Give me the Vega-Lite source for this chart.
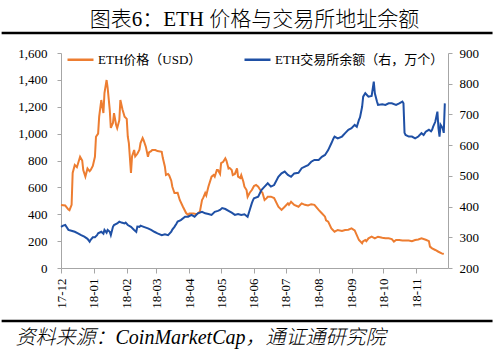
{
"$schema": "https://vega.github.io/schema/vega-lite/v6.json",
"width": 387, "height": 215,
"autosize": {"type": "none"},
"padding": {"left": 61, "top": 53, "right": 51, "bottom": 86},
"background": "white",
"config": {"view": {"stroke": null}, "font": "Liberation Serif, Noto Sans CJK SC"},
"title": {"text": "图表6：ETH 价格与交易所地址余额", "font": "Liberation Serif, Noto Sans CJK SC", "fontSize": 21, "fontWeight": 300, "color": "#000", "anchor": "middle", "offset": 2},
"datasets": {
"price": [
{"date":"2017-12-01","price":469},{"date":"2017-12-05","price":465},{"date":"2017-12-06","price":455},{"date":"2017-12-08","price":435},{"date":"2017-12-09","price":430},{"date":"2017-12-11","price":470},{"date":"2017-12-12","price":707},{"date":"2017-12-14","price":766},{"date":"2017-12-16","price":750},{"date":"2017-12-19","price":828},{"date":"2017-12-21","price":800},{"date":"2017-12-22","price":729},{"date":"2017-12-24","price":680},{"date":"2017-12-26","price":740},{"date":"2017-12-28","price":720},{"date":"2017-12-29","price":730},{"date":"2017-12-31","price":760},
{"date":"2018-01-02","price":828},{"date":"2018-01-03","price":977},{"date":"2018-01-05","price":1000},{"date":"2018-01-06","price":1126},{"date":"2018-01-08","price":1250},{"date":"2018-01-10","price":1153},{"date":"2018-01-11","price":1302},{"date":"2018-01-13","price":1399},{"date":"2018-01-14","price":1340},{"date":"2018-01-16","price":1175},{"date":"2018-01-17","price":1042},{"date":"2018-01-19","price":1080},{"date":"2018-01-20","price":1153},{"date":"2018-01-22","price":1064},{"date":"2018-01-23","price":1040},{"date":"2018-01-25","price":1100},{"date":"2018-01-26","price":1250},{"date":"2018-01-28","price":1180},{"date":"2018-01-30","price":1126},
{"date":"2018-02-01","price":1110},{"date":"2018-02-02","price":977},{"date":"2018-02-03","price":930},{"date":"2018-02-05","price":707},{"date":"2018-02-06","price":830},{"date":"2018-02-08","price":878},{"date":"2018-02-09","price":830},{"date":"2018-02-11","price":850},{"date":"2018-02-13","price":880},{"date":"2018-02-14","price":930},{"date":"2018-02-16","price":967},{"date":"2018-02-17","price":950},{"date":"2018-02-19","price":903},{"date":"2018-02-21","price":828},{"date":"2018-02-22","price":860},{"date":"2018-02-24","price":870},{"date":"2018-02-25","price":878},{"date":"2018-02-28","price":878},
{"date":"2018-03-02","price":870},{"date":"2018-03-06","price":865},{"date":"2018-03-07","price":820},{"date":"2018-03-09","price":754},{"date":"2018-03-10","price":692},{"date":"2018-03-12","price":700},{"date":"2018-03-13","price":690},{"date":"2018-03-15","price":650},{"date":"2018-03-16","price":605},{"date":"2018-03-18","price":558},{"date":"2018-03-21","price":560},{"date":"2018-03-23","price":506},{"date":"2018-03-26","price":456},{"date":"2018-03-29","price":409},{"date":"2018-03-31","price":394},
{"date":"2018-04-01","price":405},{"date":"2018-04-05","price":405},{"date":"2018-04-08","price":400},{"date":"2018-04-09","price":405},{"date":"2018-04-11","price":420},{"date":"2018-04-13","price":506},{"date":"2018-04-14","price":520},{"date":"2018-04-16","price":558},{"date":"2018-04-17","price":540},{"date":"2018-04-19","price":605},{"date":"2018-04-22","price":680},{"date":"2018-04-24","price":692},{"date":"2018-04-25","price":680},{"date":"2018-04-27","price":729},{"date":"2018-04-28","price":729},{"date":"2018-04-30","price":700},
{"date":"2018-05-01","price":781},{"date":"2018-05-03","price":790},{"date":"2018-05-05","price":816},{"date":"2018-05-06","price":800},{"date":"2018-05-08","price":741},{"date":"2018-05-09","price":745},{"date":"2018-05-11","price":730},{"date":"2018-05-12","price":692},{"date":"2018-05-14","price":700},{"date":"2018-05-16","price":741},{"date":"2018-05-17","price":680},{"date":"2018-05-19","price":670},{"date":"2018-05-20","price":692},{"date":"2018-05-22","price":642},{"date":"2018-05-23","price":605},{"date":"2018-05-25","price":580},{"date":"2018-05-26","price":530},{"date":"2018-05-28","price":560},{"date":"2018-05-30","price":580},{"date":"2018-05-31","price":595},
{"date":"2018-06-01","price":610},{"date":"2018-06-03","price":618},{"date":"2018-06-05","price":605},{"date":"2018-06-08","price":568},{"date":"2018-06-09","price":560},{"date":"2018-06-11","price":506},{"date":"2018-06-13","price":520},{"date":"2018-06-14","price":531},{"date":"2018-06-17","price":531},{"date":"2018-06-20","price":520},{"date":"2018-06-24","price":456},{"date":"2018-06-27","price":432},{"date":"2018-06-30","price":456},
{"date":"2018-07-03","price":481},{"date":"2018-07-04","price":470},{"date":"2018-07-06","price":493},{"date":"2018-07-09","price":470},{"date":"2018-07-13","price":456},{"date":"2018-07-16","price":481},{"date":"2018-07-19","price":470},{"date":"2018-07-22","price":465},{"date":"2018-07-25","price":475},{"date":"2018-07-28","price":470},
{"date":"2018-08-01","price":432},{"date":"2018-08-04","price":407},{"date":"2018-08-07","price":382},{"date":"2018-08-08","price":355},{"date":"2018-08-10","price":345},{"date":"2018-08-13","price":295},{"date":"2018-08-16","price":270},{"date":"2018-08-19","price":283},{"date":"2018-08-23","price":275},{"date":"2018-08-26","price":283},{"date":"2018-08-29","price":285},
{"date":"2018-09-01","price":295},{"date":"2018-09-04","price":280},{"date":"2018-09-08","price":208},{"date":"2018-09-11","price":184},{"date":"2018-09-12","price":200},{"date":"2018-09-14","price":208},{"date":"2018-09-15","price":200},{"date":"2018-09-17","price":221},{"date":"2018-09-20","price":233},{"date":"2018-09-23","price":221},{"date":"2018-09-26","price":233},{"date":"2018-09-30","price":225},
{"date":"2018-10-03","price":221},{"date":"2018-10-06","price":221},{"date":"2018-10-09","price":215},{"date":"2018-10-11","price":196},{"date":"2018-10-13","price":208},{"date":"2018-10-16","price":208},{"date":"2018-10-19","price":205},{"date":"2018-10-22","price":205},{"date":"2018-10-25","price":205},{"date":"2018-10-28","price":200},{"date":"2018-10-31","price":208},
{"date":"2018-11-03","price":212},{"date":"2018-11-06","price":221},{"date":"2018-11-10","price":210},{"date":"2018-11-13","price":200},{"date":"2018-11-14","price":159},{"date":"2018-11-16","price":146},{"date":"2018-11-19","price":134},{"date":"2018-11-22","price":121},{"date":"2018-11-25","price":109},{"date":"2018-11-27","price":104}
],
"balance": [
{"date":"2017-12-01","balance":334},{"date":"2017-12-03","balance":338},{"date":"2017-12-05","balance":340},{"date":"2017-12-08","balance":324},{"date":"2017-12-10","balance":322},{"date":"2017-12-14","balance":318},{"date":"2017-12-17","balance":313},{"date":"2017-12-20","balance":307},{"date":"2017-12-23","balance":302},{"date":"2017-12-26","balance":295},{"date":"2017-12-28","balance":286},{"date":"2017-12-29","balance":292},{"date":"2017-12-31","balance":300},
{"date":"2018-01-02","balance":300},{"date":"2018-01-04","balance":307},{"date":"2018-01-05","balance":313},{"date":"2018-01-08","balance":318},{"date":"2018-01-10","balance":312},{"date":"2018-01-11","balance":324},{"date":"2018-01-13","balance":315},{"date":"2018-01-14","balance":324},{"date":"2018-01-16","balance":318},{"date":"2018-01-17","balance":307},{"date":"2018-01-19","balance":334},{"date":"2018-01-20","balance":340},{"date":"2018-01-23","balance":345},{"date":"2018-01-25","balance":351},{"date":"2018-01-27","balance":348},{"date":"2018-01-30","balance":345},{"date":"2018-01-31","balance":348},
{"date":"2018-02-02","balance":340},{"date":"2018-02-05","balance":334},{"date":"2018-02-08","balance":324},{"date":"2018-02-10","balance":318},{"date":"2018-02-11","balance":335},{"date":"2018-02-13","balance":334},{"date":"2018-02-14","balance":338},{"date":"2018-02-17","balance":334},{"date":"2018-02-21","balance":329},{"date":"2018-02-24","balance":324},{"date":"2018-02-27","balance":318},
{"date":"2018-03-02","balance":313},{"date":"2018-03-06","balance":307},{"date":"2018-03-09","balance":310},{"date":"2018-03-12","balance":307},{"date":"2018-03-15","balance":318},{"date":"2018-03-16","balance":325},{"date":"2018-03-18","balance":334},{"date":"2018-03-20","balance":345},{"date":"2018-03-21","balance":351},{"date":"2018-03-24","balance":356},{"date":"2018-03-28","balance":367},{"date":"2018-03-31","balance":367},
{"date":"2018-04-03","balance":373},{"date":"2018-04-06","balance":367},{"date":"2018-04-09","balance":378},{"date":"2018-04-13","balance":383},{"date":"2018-04-16","balance":378},{"date":"2018-04-19","balance":376},{"date":"2018-04-22","balance":373},{"date":"2018-04-25","balance":383},{"date":"2018-04-28","balance":386},{"date":"2018-04-30","balance":389},
{"date":"2018-05-02","balance":395},{"date":"2018-05-05","balance":392},{"date":"2018-05-08","balance":386},{"date":"2018-05-11","balance":380},{"date":"2018-05-14","balance":373},{"date":"2018-05-17","balance":376},{"date":"2018-05-20","balance":373},{"date":"2018-05-23","balance":375},{"date":"2018-05-26","balance":367},{"date":"2018-05-28","balance":389},{"date":"2018-05-30","balance":411},{"date":"2018-05-31","balance":420},
{"date":"2018-06-01","balance":427},{"date":"2018-06-05","balance":432},{"date":"2018-06-08","balance":454},{"date":"2018-06-11","balance":465},{"date":"2018-06-14","balance":476},{"date":"2018-06-17","balance":465},{"date":"2018-06-20","balance":470},{"date":"2018-06-24","balance":497},{"date":"2018-06-27","balance":508},{"date":"2018-06-30","balance":514},
{"date":"2018-07-03","balance":503},{"date":"2018-07-06","balance":497},{"date":"2018-07-09","balance":508},{"date":"2018-07-13","balance":510},{"date":"2018-07-16","balance":525},{"date":"2018-07-19","balance":530},{"date":"2018-07-22","balance":535},{"date":"2018-07-25","balance":546},{"date":"2018-07-28","balance":552},
{"date":"2018-08-01","balance":552},{"date":"2018-08-04","balance":562},{"date":"2018-08-07","balance":568},{"date":"2018-08-10","balance":584},{"date":"2018-08-13","balance":606},{"date":"2018-08-15","balance":622},{"date":"2018-08-16","balance":628},{"date":"2018-08-19","balance":622},{"date":"2018-08-23","balance":628},{"date":"2018-08-26","balance":639},{"date":"2018-08-29","balance":650},
{"date":"2018-09-01","balance":655},{"date":"2018-09-04","balance":666},{"date":"2018-09-06","balance":660},{"date":"2018-09-08","balance":682},{"date":"2018-09-09","balance":690},{"date":"2018-09-11","balance":725},{"date":"2018-09-12","balance":758},{"date":"2018-09-14","balance":769},{"date":"2018-09-17","balance":758},{"date":"2018-09-20","balance":760},{"date":"2018-09-22","balance":807},{"date":"2018-09-23","balance":769},{"date":"2018-09-25","balance":742},{"date":"2018-09-26","balance":731},{"date":"2018-09-30","balance":733},
{"date":"2018-10-03","balance":731},{"date":"2018-10-06","balance":736},{"date":"2018-10-09","balance":736},{"date":"2018-10-13","balance":731},{"date":"2018-10-16","balance":736},{"date":"2018-10-19","balance":742},{"date":"2018-10-20","balance":736},{"date":"2018-10-21","balance":640},{"date":"2018-10-22","balance":633},{"date":"2018-10-25","balance":628},{"date":"2018-10-28","balance":628},{"date":"2018-10-31","balance":622},
{"date":"2018-11-03","balance":628},{"date":"2018-11-06","balance":639},{"date":"2018-11-08","balance":633},{"date":"2018-11-10","balance":644},{"date":"2018-11-13","balance":650},{"date":"2018-11-15","balance":645},{"date":"2018-11-16","balance":650},{"date":"2018-11-17","balance":660},{"date":"2018-11-19","balance":676},{"date":"2018-11-21","balance":709},{"date":"2018-11-22","balance":655},{"date":"2018-11-23","balance":628},{"date":"2018-11-24","balance":666},{"date":"2018-11-26","balance":655},{"date":"2018-11-27","balance":640},{"date":"2018-11-28","balance":736}
]
},
"layer": [
{"layer": [
 {"data": {"name": "price"}, "mark": {"type": "line", "strokeWidth": 2},
  "encoding": {
   "x": {"field": "date", "type": "temporal",
    "scale": {"type": "utc", "domain": [1512086400000, 1543622400000]},
    "axis": {"values": [1512086400000, 1514764800000, 1517443200000, 1519862400000, 1522540800000, 1525132800000, 1527811200000, 1530403200000, 1533081600000, 1535760000000, 1538352000000, 1541030400000],
     "labelExpr": "utcFormat(datum.value, '%y-%m')", "labelAngle": 270, "labelFont": "Liberation Serif", "labelFontSize": 13, "labelColor": "#000", "labelPadding": 5, "tickSize": 5, "tickColor": "#a6a6a6", "domainColor": "#a6a6a6", "grid": false, "labelFlush": false, "labelOverlap": false,
     "title": "资料来源：CoinMarketCap，通证通研究院", "titleFont": "Liberation Serif, Noto Sans CJK SC", "titleFontStyle": "italic", "titleFontWeight": 300, "titleFontSize": 20, "titleColor": "#000", "titleAnchor": "start", "titleAlign": "left", "titleX": -46, "titleY": 75, "titleBaseline": "alphabetic"}},
   "y": {"field": "price", "type": "quantitative", "scale": {"domain": [0, 1600], "nice": false},
    "axis": {"orient": "left", "values": [0,200,400,600,800,1000,1200,1400,1600], "format": ",d", "title": null, "labelFont": "Liberation Serif", "labelFontSize": 13, "labelColor": "#000", "tickSize": 4, "labelPadding": 10, "tickColor": "#a6a6a6", "domainColor": "#a6a6a6", "grid": false, "labelOverlap": false}},
   "color": {"datum": "ETH价格（USD）", "type": "nominal",
    "scale": {"domain": ["ETH价格（USD）", "ETH交易所余额（右，万个）"], "range": ["#ED7D31", "#1F50A5"]},
    "legend": {"orient": "none", "legendX": 5, "legendY": -8, "direction": "horizontal", "columns": 2, "title": null, "symbolType": "stroke", "symbolSize": 676, "symbolStrokeWidth": 2.5, "labelFont": "Liberation Serif, Noto Sans CJK SC", "labelFontSize": 13, "labelColor": "#000", "labelOffset": 3, "columnPadding": 37, "labelLimit": 300}}
  }},
 {"data": {"values": [{"line": "title rule"}]}, "mark": {"type": "rule", "color": "#000", "strokeWidth": 2.5, "clip": false},
  "encoding": {
   "x": {"datum": 1507248000000, "type": "temporal",
    "axis": {"values": [1512086400000, 1514764800000, 1517443200000, 1519862400000, 1522540800000, 1525132800000, 1527811200000, 1530403200000, 1533081600000, 1535760000000, 1538352000000, 1541030400000],
     "labelExpr": "utcFormat(datum.value, '%y-%m')", "labelAngle": 270, "labelFont": "Liberation Serif", "labelFontSize": 13, "labelColor": "#000", "labelPadding": 5, "tickSize": 5, "tickColor": "#a6a6a6", "domainColor": "#a6a6a6", "grid": false, "labelFlush": false, "labelOverlap": false,
     "title": "资料来源：CoinMarketCap，通证通研究院", "titleFont": "Liberation Serif, Noto Sans CJK SC", "titleFontStyle": "italic", "titleFontWeight": 300, "titleFontSize": 20, "titleColor": "#000", "titleAnchor": "start", "titleAlign": "left", "titleX": -46, "titleY": 75, "titleBaseline": "alphabetic"}},
   "x2": {"datum": 1547251200000},
   "y": {"datum": 1749, "type": "quantitative",
    "axis": {"orient": "left", "values": [0,200,400,600,800,1000,1200,1400,1600], "format": ",d", "title": null, "labelFont": "Liberation Serif", "labelFontSize": 13, "labelColor": "#000", "tickSize": 4, "labelPadding": 10, "tickColor": "#a6a6a6", "domainColor": "#a6a6a6", "grid": false, "labelOverlap": false}}
  }},
 {"data": {"values": [{"line": "source rule"}]}, "mark": {"type": "rule", "color": "#000", "strokeWidth": 2.5, "clip": false},
  "encoding": {
   "x": {"datum": 1507248000000, "type": "temporal",
    "axis": {"values": [1512086400000, 1514764800000, 1517443200000, 1519862400000, 1522540800000, 1525132800000, 1527811200000, 1530403200000, 1533081600000, 1535760000000, 1538352000000, 1541030400000],
     "labelExpr": "utcFormat(datum.value, '%y-%m')", "labelAngle": 270, "labelFont": "Liberation Serif", "labelFontSize": 13, "labelColor": "#000", "labelPadding": 5, "tickSize": 5, "tickColor": "#a6a6a6", "domainColor": "#a6a6a6", "grid": false, "labelFlush": false, "labelOverlap": false,
     "title": "资料来源：CoinMarketCap，通证通研究院", "titleFont": "Liberation Serif, Noto Sans CJK SC", "titleFontStyle": "italic", "titleFontWeight": 300, "titleFontSize": 20, "titleColor": "#000", "titleAnchor": "start", "titleAlign": "left", "titleX": -46, "titleY": 75, "titleBaseline": "alphabetic"}},
   "x2": {"datum": 1547251200000},
   "y": {"datum": -394, "type": "quantitative",
    "axis": {"orient": "left", "values": [0,200,400,600,800,1000,1200,1400,1600], "format": ",d", "title": null, "labelFont": "Liberation Serif", "labelFontSize": 13, "labelColor": "#000", "tickSize": 4, "labelPadding": 10, "tickColor": "#a6a6a6", "domainColor": "#a6a6a6", "grid": false, "labelOverlap": false}}
  }}
]},
{"data": {"name": "balance"}, "mark": {"type": "line", "strokeWidth": 2},
 "encoding": {
  "x": {"field": "date", "type": "temporal",
   "axis": {"values": [1512086400000, 1514764800000, 1517443200000, 1519862400000, 1522540800000, 1525132800000, 1527811200000, 1530403200000, 1533081600000, 1535760000000, 1538352000000, 1541030400000],
    "labelExpr": "utcFormat(datum.value, '%y-%m')", "labelAngle": 270, "labelFont": "Liberation Serif", "labelFontSize": 13, "labelColor": "#000", "labelPadding": 5, "tickSize": 5, "tickColor": "#a6a6a6", "domainColor": "#a6a6a6", "grid": false, "labelFlush": false, "labelOverlap": false,
    "title": "资料来源：CoinMarketCap，通证通研究院", "titleFont": "Liberation Serif, Noto Sans CJK SC", "titleFontStyle": "italic", "titleFontWeight": 300, "titleFontSize": 20, "titleColor": "#000", "titleAnchor": "start", "titleAlign": "left", "titleX": -46, "titleY": 75, "titleBaseline": "alphabetic"}},
  "y": {"field": "balance", "type": "quantitative", "scale": {"domain": [200, 900], "nice": false},
   "axis": {"orient": "right", "values": [200,300,400,500,600,700,800,900], "title": null, "labelFont": "Liberation Serif", "labelFontSize": 13, "labelColor": "#000", "tickSize": 4, "labelPadding": 7, "tickColor": "#a6a6a6", "domainColor": "#a6a6a6", "grid": false, "labelOverlap": false}},
  "color": {"datum": "ETH交易所余额（右，万个）", "type": "nominal"}
 }}
],
"resolve": {"scale": {"y": "independent"}}
}
